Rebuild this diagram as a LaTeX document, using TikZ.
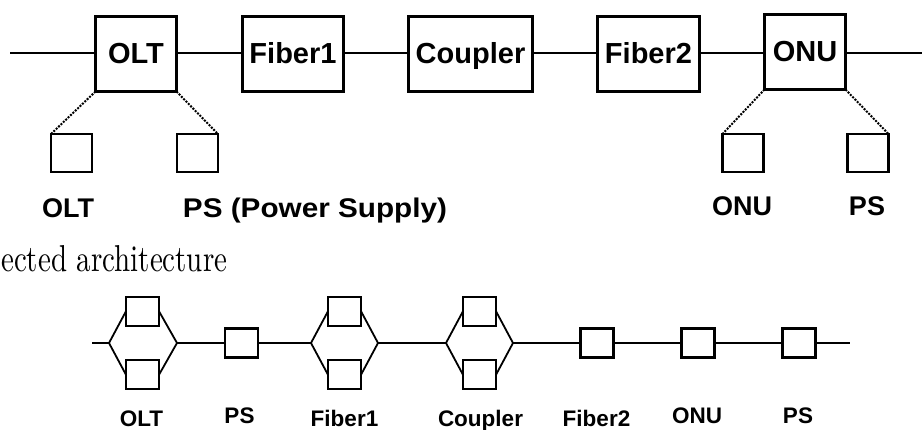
\documentclass[tikz,border=0pt]{standalone}
\usepackage{fontspec}
\newfontfamily\arialf{Liberation Sans}
\usepackage{graphicx}
\begin{document}
\begin{tikzpicture}[x=1pt,y=-1pt,
  bigbox/.style={draw, line width=2.6pt, fill=white, inner sep=0pt, outer sep=0pt, minimum height=75pt, text height=20pt, text depth=0pt, font=\fontsize{29}{31}\selectfont\arialf\bfseries},
  subbox/.style={draw, line width=2.4pt, fill=white, inner sep=0pt, outer sep=0pt, minimum width=41pt, minimum height=38pt},
  wire/.style={line width=2pt},
  link/.style={line width=2pt, dash pattern=on 2pt off 1.3pt},
  toplabel/.style={anchor=base, inner sep=0pt, font=\fontsize{27}{29}\selectfont\arialf\bfseries},
  rbox/.style={draw, line width=2.2pt, fill=white, inner sep=0pt, outer sep=0pt, minimum width=33pt, minimum height=29pt},
  rwire/.style={line width=1.8pt, line join=miter},
  rlabel/.style={anchor=base, inner sep=0pt, font=\fontsize{22.5}{24}\selectfont\arialf\bfseries}]
\useasboundingbox (0,0) rectangle (922,430);

% ---------- top diagram ----------
\coordinate (tl) at (10,53);
\coordinate (tr) at (922,53);
\node[bigbox, minimum width=81pt]  (olt)  at (136,54)   {OLT};
\node[bigbox, minimum width=101pt] (fib1) at (293,54)   {Fiber1};
\node[bigbox, minimum width=124pt] (coup) at (470.5,54) {Coupler};
\node[bigbox, minimum width=102pt] (fib2) at (648.5,54) {Fiber2};
\node[bigbox, minimum width=81pt]  (onu)  at (805,52)   {ONU};
\draw[wire] (tl) -- (tl -| olt.west);
\draw[wire] (tl -| olt.east) -- (tl -| fib1.west);
\draw[wire] (tl -| fib1.east) -- (tl -| coup.west);
\draw[wire] (tl -| coup.east) -- (tl -| fib2.west);
\draw[wire] (tl -| fib2.east) -- (tl -| onu.west);
\draw[wire] (tl -| onu.east) -- (tr);

\node[subbox] (s1) at (71.5,153) {};
\node[subbox] (s2) at (197.5,153) {};
\node[subbox] (s3) at (743,153) {};
\node[subbox] (s4) at (868,153) {};
\draw[link] (olt.south west) -- (s1.north west);
\draw[link] (olt.south east) -- (s2.north east);
\draw[link] (onu.south west) -- (s3.north west);
\draw[link] (onu.south east) -- (s4.north east);

\node[toplabel] (t1) at (68,218)  {OLT};
\node[toplabel] (t2) at (315,218) {\scalebox{1.1}[1]{PS (Power Supply)}};
\node[toplabel] (t3) at (742,216) {ONU};
\node[toplabel] (t4) at (867,216) {PS};

% ---------- caption fragment ----------
\node[anchor=base west, inner sep=0pt] (cap) at (1,272) {\resizebox{226pt}{26pt}{ected architecture}};

% ---------- bottom diagram ----------
\coordinate (b0) at (92,343);
\coordinate (b1) at (850,343);
\coordinate (oltL) at (109,343);
\coordinate (oltR) at (177,343);
\node[rbox] (oltU) at (142.5,311.25) {};
\node[rbox] (oltD) at (142.5,374.75) {};
\node[rbox] (ps1) at (241.5,343) {};
\coordinate (fibL) at (311,343);
\coordinate (fibR) at (378,343);
\node[rbox] (fibU) at (344.5,311.25) {};
\node[rbox] (fibD) at (344.5,374.75) {};
\coordinate (coupL) at (446,343);
\coordinate (coupR) at (513,343);
\node[rbox] (coupU) at (479.5,311.25) {};
\node[rbox] (coupD) at (479.5,374.75) {};
\node[rbox] (fib2b) at (597,343) {};
\node[rbox] (onub) at (698,343) {};
\node[rbox] (ps2) at (799,343) {};

\draw[rwire] (b0) -- (oltL);
\draw[rwire] (oltU.west) -- (oltL) -- (oltD.west);
\draw[rwire] (oltU.east) -- (oltR) -- (oltD.east);
\draw[rwire] (oltR) -- (ps1.west);
\draw[rwire] (ps1.east) -- (fibL);
\draw[rwire] (fibU.west) -- (fibL) -- (fibD.west);
\draw[rwire] (fibU.east) -- (fibR) -- (fibD.east);
\draw[rwire] (fibR) -- (coupL);
\draw[rwire] (coupU.west) -- (coupL) -- (coupD.west);
\draw[rwire] (coupU.east) -- (coupR) -- (coupD.east);
\draw[rwire] (coupR) -- (fib2b.west);
\draw[rwire] (fib2b.east) -- (onub.west);
\draw[rwire] (onub.east) -- (ps2.west);
\draw[rwire] (ps2.east) -- (b1);

\node[rlabel] (r1) at (141.5,427) {OLT};
\node[rlabel] (r2) at (239.5,424) {PS};
\node[rlabel] (r3) at (344.5,427) {Fiber1};
\node[rlabel] (r4) at (480.5,427) {Coupler};
\node[rlabel] (r5) at (596.5,427) {Fiber2};
\node[rlabel] (r6) at (697,424)   {ONU};
\node[rlabel] (r7) at (798,424)   {PS};
\end{tikzpicture}
\end{document}
